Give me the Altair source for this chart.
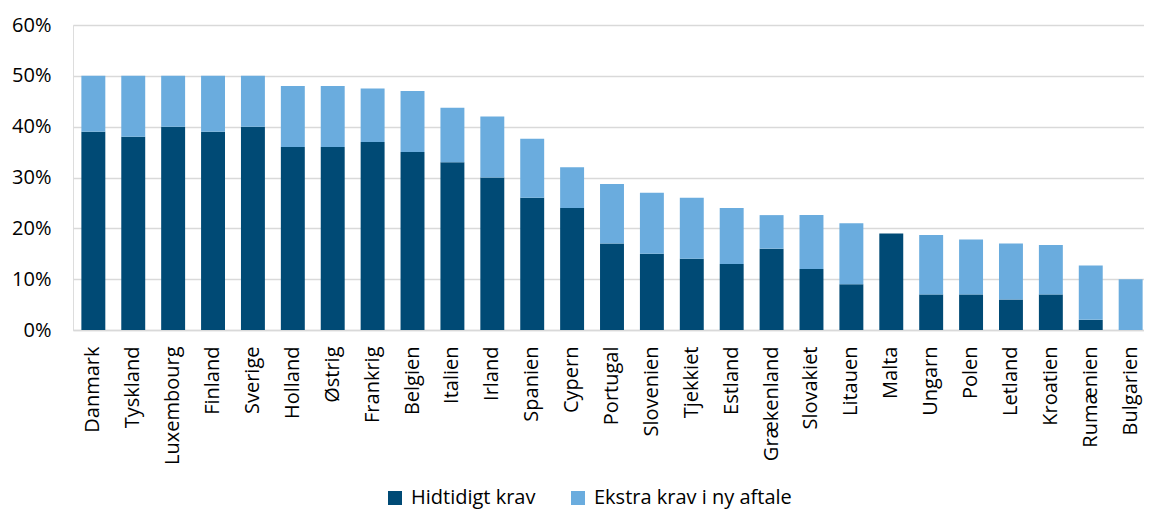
import altair as alt
import pandas as pd

countries = ["Danmark", "Tyskland", "Luxembourg", "Finland", "Sverige", "Holland", "Østrig",
             "Frankrig", "Belgien", "Italien", "Irland", "Spanien", "Cypern", "Portugal",
             "Slovenien", "Tjekkiet", "Estland", "Grækenland", "Slovakiet", "Litauen", "Malta",
             "Ungarn", "Polen", "Letland", "Kroatien", "Rumænien", "Bulgarien"]
hidtidigt = [39, 38, 40, 39, 40, 36, 36, 37, 35, 33, 30, 26, 24, 17, 15, 14, 13, 16, 12, 9, 19,
             7, 7, 6, 7, 2, 0]
total = [50, 50, 50, 50, 50, 48, 48, 47.5, 47, 43.7, 42, 37.6, 32, 28.7, 27, 26, 24, 22.6, 22.6,
         21, 19, 18.7, 17.8, 17, 16.7, 12.7, 10]
series = ["Hidtidigt krav", "Ekstra krav i ny aftale"]
colors = ["#004A75", "#6AACDE"]

rows = []
for c, h, t in zip(countries, hidtidigt, total):
    rows.append({"land": c, "serie": series[0], "v": h / 100, "o": 0})
    rows.append({"land": c, "serie": series[1], "v": round(t - h, 2) / 100, "o": 1})
df = pd.DataFrame(rows)

FONT = "Open Sans"

chart = alt.Chart(df).mark_bar().encode(
    x=alt.X("land:N", sort=countries, title=None,
            scale=alt.Scale(paddingInner=0.4, paddingOuter=0.21),
            axis=alt.Axis(labelAngle=-90, labelAlign="right", labelBaseline="middle",
                          labelPadding=16, ticks=False, domainColor="#d9d9d9", domainWidth=1.5,
                          labelFontSize=20, labelFont=FONT, labelColor="#000000")),
    y=alt.Y("v:Q", stack="zero", title=None,
            scale=alt.Scale(domain=[0, 0.6], nice=False),
            axis=alt.Axis(format=".0%", values=[0, 0.1, 0.2, 0.3, 0.4, 0.5, 0.6],
                          domain=False, ticks=False, labelPadding=22, gridColor="#d9d9d9",
                          gridWidth=1.5, labelFontSize=20, labelFont=FONT,
                          labelColor="#000000")),
    color=alt.Color("serie:N", sort=series,
                    scale=alt.Scale(domain=series, range=colors),
                    legend=alt.Legend(title=None, orient="none", legendX=312, legendY=463,
                                      direction="horizontal",
                                      symbolType="square", symbolSize=196,
                                      symbolStrokeWidth=0, labelFontSize=20,
                                      labelFont=FONT, labelColor="#000000", labelLimit=400,
                                      columnPadding=32, labelOffset=6)),
    order=alt.Order("o:Q", sort="ascending"),
).properties(
    width=1078, height=305,
    autosize=alt.AutoSizeParams(type="none"),
    padding={"left": 65, "top": 17, "right": -7, "bottom": 180},
).configure_view(stroke=None).configure(background="white")

chart.save("out.html", embed_options={"renderer": "svg", "actions": False})
